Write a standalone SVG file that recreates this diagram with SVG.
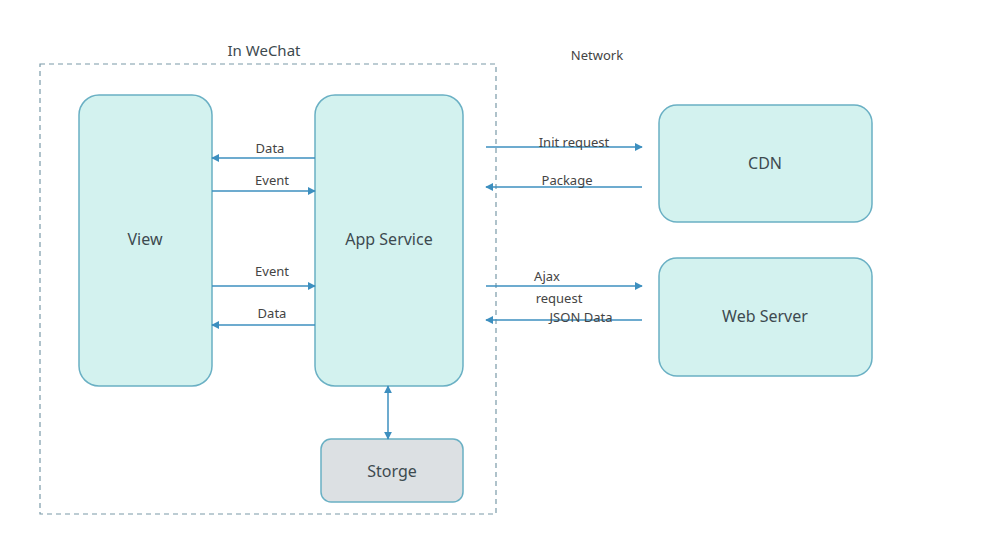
<svg xmlns="http://www.w3.org/2000/svg" width="1000" height="542" viewBox="0 0 1000 542">
<style>
.node{fill:#d3f2ef;stroke:#6ab0c4;stroke-width:1.5}
.store{fill:#dce0e3;stroke:#6ab0c4;stroke-width:1.5}
.lbl{font-family:"Noto Sans","Open Sans",sans-serif;font-size:16px;fill:#3d4a4f;text-anchor:middle}
.sm{font-family:"Noto Sans","Open Sans",sans-serif;font-size:13px;fill:#444;text-anchor:middle}
.ln{stroke:#3d8fbf;stroke-width:1.5;fill:none}
</style>
<defs>
<marker id="ah" viewBox="0 0 10 10" refX="9" refY="5" markerWidth="8" markerHeight="8" orient="auto-start-reverse" markerUnits="userSpaceOnUse">
<path d="M0,0 L10,5 L0,10 z" fill="#3d8fbf"/>
</marker>
</defs>
<rect width="1000" height="542" fill="#fff"/>
<g id="wechat">
<rect x="40" y="64" width="456" height="450" fill="none" stroke="#7a9aa8" stroke-width="1.2" stroke-dasharray="5,4"/>
<text x="264" y="56" class="lbl" style="font-size:15px">In WeChat</text>
</g>
<text x="597" y="60" class="sm">Network</text>
<g id="view"><rect class="node" x="79" y="95" width="133" height="291" rx="20"/><text class="lbl" x="145" y="245">View</text></g>
<g id="app"><rect class="node" x="315" y="95" width="148" height="291" rx="20"/><text class="lbl" x="389" y="245">App Service</text></g>
<g id="storge"><rect class="store" x="321" y="439" width="142" height="63" rx="10"/><text class="lbl" x="392" y="477">Storge</text></g>
<g id="cdn"><rect class="node" x="659" y="105" width="213" height="117" rx="18"/><text class="lbl" x="765" y="169">CDN</text></g>
<g id="web"><rect class="node" x="659" y="258" width="213" height="118" rx="18"/><text class="lbl" x="765" y="322">Web Server</text></g>
<g id="connectors">
<line class="ln" x1="315" y1="158" x2="212" y2="158" marker-end="url(#ah)"/>
<line class="ln" x1="212" y1="191" x2="315" y2="191" marker-end="url(#ah)"/>
<line class="ln" x1="212" y1="286" x2="315" y2="286" marker-end="url(#ah)"/>
<line class="ln" x1="315" y1="325" x2="212" y2="325" marker-end="url(#ah)"/>
<line class="ln" x1="486" y1="147" x2="642" y2="147" marker-end="url(#ah)"/>
<line class="ln" x1="642" y1="187" x2="486" y2="187" marker-end="url(#ah)"/>
<line class="ln" x1="486" y1="286" x2="642" y2="286" marker-end="url(#ah)"/>
<line class="ln" x1="642" y1="320" x2="486" y2="320" marker-end="url(#ah)"/>
<line class="ln" x1="388" y1="386" x2="388" y2="439" marker-start="url(#ah)" marker-end="url(#ah)"/>
<text class="sm" x="270" y="153">Data</text>
<text class="sm" x="272" y="185">Event</text>
<text class="sm" x="272" y="276">Event</text>
<text class="sm" x="272" y="318">Data</text>
<text class="sm" x="574" y="147">Init request</text>
<text class="sm" x="567" y="185">Package</text>
<text class="sm" x="547" y="281">Ajax</text>
<text class="sm" x="559" y="303">request</text>
<text class="sm" x="581" y="322">JSON Data</text>
</g>
</svg>
